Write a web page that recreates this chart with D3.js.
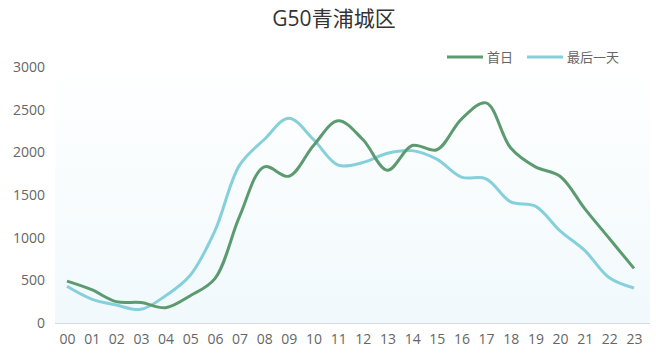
<!DOCTYPE html>
<html>
<head>
<meta charset="utf-8">
<script src="https://cdn.jsdelivr.net/npm/d3@7"></script>
<style>
  body { margin: 0; background: #fff; }
  svg { display: block; font-family: "Open Sans", "Noto Sans CJK SC", sans-serif; }
</style>
</head>
<body>
<div id="chart"></div>
<script>
// hours 00..23
var hours = ["00","01","02","03","04","05","06","07","08","09","10","11",
             "12","13","14","15","16","17","18","19","20","21","22","23"];
var firstDay = [490, 390, 250, 240, 180, 320, 520, 1250, 1830, 1720, 2080, 2370,
                2150, 1790, 2080, 2030, 2390, 2580, 2050, 1830, 1720, 1340, 990, 640];
var lastDay = [430, 280, 210, 160, 320, 560, 1080, 1850, 2150, 2400, 2150, 1850,
               1880, 1990, 2020, 1920, 1710, 1690, 1420, 1370, 1080, 850, 530, 410];
var yTicks = [0, 500, 1000, 1500, 2000, 2500, 3000];
var seriesNames = ["首日", "最后一天"];

const W = 656, H = 355,
  LEFT = 55, RIGHT = 650, TOP = 67, BOTTOM = 323,
  GREEN = "#5c9b70", BLUE = "#86d0dc",
  FONT = "\"Open Sans\", \"Noto Sans CJK SC\", sans-serif";

var svg = d3.select("#chart").append("svg")
  .attr("width", W).attr("height", H);

var defs = svg.append("defs");
var grad = defs.append("linearGradient")
  .attr("id", "bg").attr("x1", 0).attr("y1", 0).attr("x2", 0).attr("y2", 1);
grad.append("stop").attr("offset", "0%").attr("stop-color", "#ffffff");
grad.append("stop").attr("offset", "100%").attr("stop-color", "#f1f9fc");

var x = d3.scalePoint().domain(hours).range([67, 634]);
var y = d3.scaleLinear().domain([0, 3000]).range([BOTTOM, TOP]);

// plot background
svg.append("rect")
  .attr("x", LEFT).attr("y", 60)
  .attr("width", RIGHT - LEFT).attr("height", BOTTOM - 60)
  .attr("fill", "url(#bg)");

// title
svg.append("text")
  .attr("x", 334).attr("y", 26)
  .attr("text-anchor", "middle")
  .attr("font-size", 21)
  .attr("fill", "#333")
  .text("G50青浦城区");

// y axis labels
svg.append("g").selectAll("text")
  .data(yTicks).enter().append("text")
  .attr("x", 45).attr("y", function(d) { return y(d); })
  .attr("dy", "0.35em")
  .attr("text-anchor", "end")
  .attr("font-size", 14)
  .attr("fill", "#666")
  .text(function(d) { return d; });

// x axis
var xAxis = d3.axisBottom(x).tickSize(0).tickPadding(11);
var gx = svg.append("g")
  .attr("transform", "translate(0," + BOTTOM + ")")
  .call(xAxis);
gx.select(".domain").remove();
gx.selectAll("text")
  .attr("font-size", 14)
  .attr("fill", "#666")
  .attr("font-family", FONT);
svg.append("line")
  .attr("x1", LEFT).attr("x2", RIGHT)
  .attr("y1", BOTTOM + 0.5).attr("y2", BOTTOM + 0.5)
  .attr("stroke", "#d9d9d9").attr("stroke-width", 1);

// lines
var line = d3.line()
  .x(function(d, i) { return x(hours[i]); })
  .y(function(d) { return y(d); })
  .curve(d3.curveCatmullRom.alpha(0.5));

svg.append("path").datum(lastDay)
  .attr("d", line)
  .attr("fill", "none")
  .attr("stroke", BLUE)
  .attr("stroke-width", 3)
  .attr("stroke-linejoin", "round");

svg.append("path").datum(firstDay)
  .attr("d", line)
  .attr("fill", "none")
  .attr("stroke", GREEN)
  .attr("stroke-width", 3)
  .attr("stroke-linejoin", "round");

// legend
var legendData = [
  {label: seriesNames[0], color: GREEN, x: 447},
  {label: seriesNames[1], color: BLUE, x: 527}
];
var legend = svg.selectAll(".legend")
  .data(legendData).enter().append("g")
  .attr("class", "legend")
  .attr("transform", function(d) { return "translate(" + d.x + ",57)"; });
legend.append("line")
  .attr("x1", 0).attr("x2", 36)
  .attr("stroke", function(d) { return d.color; })
  .attr("stroke-width", 3);
legend.append("text")
  .attr("x", 40).attr("dy", "0.35em")
  .attr("font-size", 13)
  .attr("fill", "#666")
  .text(function(d) { return d.label; });
</script>
</body>
</html>
